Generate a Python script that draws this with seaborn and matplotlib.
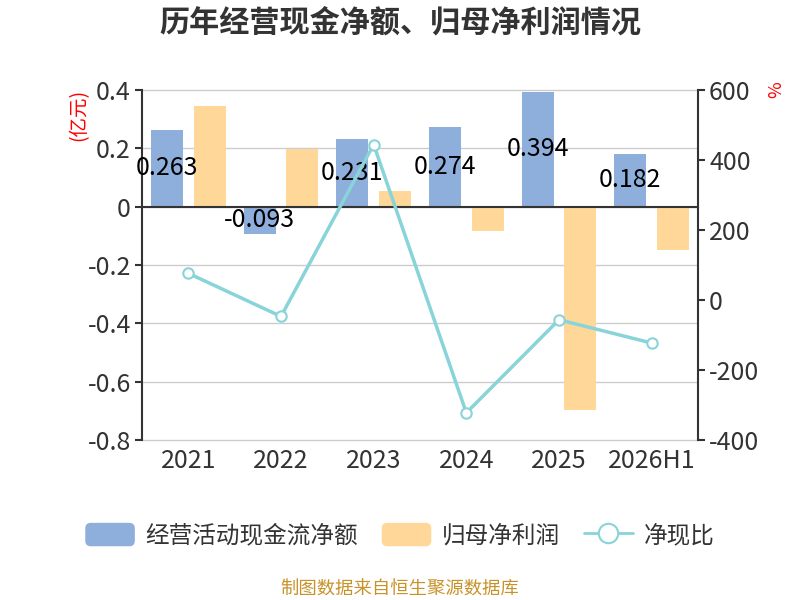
import numpy as np
import pandas as pd
import seaborn as sns
import matplotlib.pyplot as plt
from matplotlib.patches import Patch, FancyBboxPatch
from matplotlib.lines import Line2D
from matplotlib.legend_handler import HandlerPatch

# Values
years = ["2021", "2022", "2023", "2024", "2025", "2026H1"]
cash_flow = [0.263, -0.093, 0.231, 0.274, 0.394, 0.182]      # 经营活动现金流净额 (亿元)
net_profit = [0.345, 0.198, 0.052, -0.085, -0.697, -0.148]   # 归母净利润 (亿元)
cash_ratio = [76.2, -47.0, 444.2, -322.4, -56.5, -123.0]     # 净现比 (%)

series_names = ["经营活动现金流净额", "归母净利润", "净现比"]

blue = "#8EAEDB"
orange = "#FFD899"
teal = "#88D4D8"
dark = "#333333"

sns.set_theme(style="white")
plt.rcParams["font.family"] = ["Noto Sans CJK SC", "DejaVu Sans"]
plt.rcParams["axes.unicode_minus"] = False

df = pd.DataFrame({
    "year": years * 2,
    "value": cash_flow + net_profit,
    "series": [series_names[0]] * len(years) + [series_names[1]] * len(years),
})

fig = plt.figure(figsize=(8, 6), dpi=100)
ax = fig.add_axes([0.1775, 0.2667, 0.695, 0.5833])

sns.barplot(data=df, x="year", y="value", hue="series", order=years,
            hue_order=series_names[:2], palette=[blue, orange], saturation=1,
            width=0.92, gap=0.25, linewidth=0, legend=False, ax=ax)

ax.bar_label(ax.containers[0], fmt="%.3f", label_type="center",
             fontsize=18, color="black")

ax2 = ax.twinx()
sns.pointplot(x=years, y=cash_ratio, order=years, ax=ax2, color=teal,
              markers="o", linestyles="-", markersize=7.5, linewidth=2.5,
              markerfacecolor="white", markeredgecolor=teal, markeredgewidth=1.5)

# left axis
ax.set_ylim(-0.8, 0.4)
yt = np.round(np.arange(-0.8, 0.41, 0.2), 1)
ax.set_yticks(yt, labels=["0" if v == 0 else f"{v:.1f}" for v in yt])
ax.yaxis.grid(True, color="#cccccc", lw=1)
for gl in ax.get_ygridlines():
    gl.set_clip_on(False)
ax.set_axisbelow(True)
ax.set_xlabel("")
ax.set_ylabel("")
for s in ["top", "right"]:
    ax.spines[s].set_visible(False)
ax.spines["left"].set_color(dark)
ax.spines["left"].set_linewidth(1.5)
ax.spines["bottom"].set_position(("data", 0))
ax.spines["bottom"].set_color(dark)
ax.spines["bottom"].set_linewidth(1.5)
ax.set_xticks(np.arange(0.5, len(years) - 1, 1), labels=[])
ax.tick_params(axis="x", direction="out", length=6, width=1.5, color=dark)
ax.tick_params(axis="y", direction="out", length=5, width=1.5, color=dark,
               labelsize=18, labelcolor=dark, pad=3)
ax.set_xlim(-0.5, len(years) - 0.5)

# category labels under the plot area
sec = ax.secondary_xaxis(0)
sec.set_xticks(range(len(years)), labels=years)
sec.tick_params(length=0, labelsize=18, labelcolor=dark, pad=6)
sec.spines["bottom"].set_visible(False)

# right axis
ax2.set_ylim(-400, 600)
ax2.set_yticks(range(-400, 601, 200))
ax2.set_xlabel("")
ax2.set_ylabel("")
for s in ["top", "left", "bottom"]:
    ax2.spines[s].set_visible(False)
ax2.spines["right"].set_color(dark)
ax2.spines["right"].set_linewidth(1.5)
ax2.tick_params(axis="y", direction="out", length=5, width=1.5, color=dark,
                labelsize=18, labelcolor=dark, pad=3)
ax2.grid(False)

fig.text(0.5, 0.962, "历年经营现金净额、归母净利润情况", ha="center", va="center",
         fontsize=21.7, fontweight="bold", color=dark)
fig.text(0.098, 0.808, "(亿元)", ha="center", va="center", rotation=90,
         fontsize=14, color="red")
fig.text(0.97, 0.85, "%", ha="center", va="center", rotation=90,
         fontsize=13, color="red")
fig.text(0.5, 0.018, "制图数据来自恒生聚源数据库", ha="center", va="center",
         fontsize=13.2, color="#C8922A")


class RoundHandler(HandlerPatch):
    def create_artists(self, legend, orig_handle, xdescent, ydescent,
                       width, height, fontsize, trans):
        p = FancyBboxPatch((-xdescent, -ydescent), width, height,
                           boxstyle="round,pad=0,rounding_size=4",
                           facecolor=orig_handle.get_facecolor(),
                           edgecolor="none", transform=trans)
        return [p]


handles = [
    Patch(facecolor=blue),
    Patch(facecolor=orange),
    Line2D([], [], color=teal, lw=2, marker="o", markersize=14,
           markerfacecolor="white", markeredgecolor=teal, markeredgewidth=1.5),
]
fig.legend(handles, series_names, loc="center", bbox_to_anchor=(0.5, 0.108),
           ncol=3, frameon=False, fontsize=17, labelcolor=dark,
           handlelength=2.1, handleheight=1.15, handletextpad=0.45,
           columnspacing=1.0, handler_map={Patch: RoundHandler()})

fig.savefig("out.png", dpi=100)
